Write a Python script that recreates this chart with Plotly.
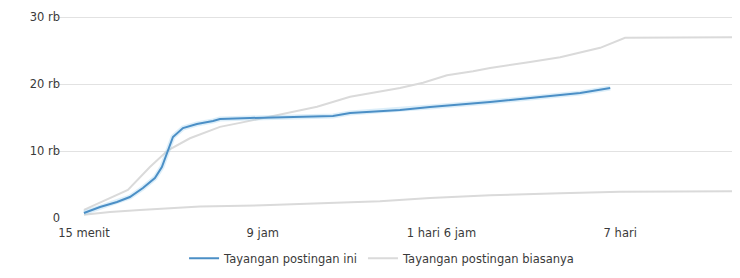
import plotly.graph_objects as go

# x positions are expressed in tick-index units (0 = "15 menit", 1 = "9 jam", ...)
tick_labels = ["15 menit", "9 jam", "1 hari 6 jam", "7 hari"]
tick_positions = [0, 1, 2, 3]
y_tick_vals = [0, 10000, 20000, 30000]
y_tick_text = ["0", "10 rb", "20 rb", "30 rb"]

this_post_x = [0.0, 0.09, 0.185, 0.257, 0.33, 0.397, 0.436, 0.47, 0.498, 0.554, 0.632,
               0.722, 0.761, 0.929, 1.209, 1.393, 1.489, 1.768, 1.936, 2.272, 2.552,
               2.776, 2.944]
this_post_y = [750, 1640, 2390, 3130, 4480, 5970, 7610, 10150, 12090, 13430, 14030,
               14480, 14780, 14930, 15070, 15220, 15670, 16120, 16570, 17310, 18060,
               18660, 19400]

typical_high_x = [0.0, 0.09, 0.246, 0.369, 0.47, 0.593, 0.761, 0.873, 1.041, 1.304, 1.489,
                  1.768, 1.897, 2.031, 2.177, 2.272, 2.496, 2.664, 2.888, 3.027, 3.671]
typical_high_y = [1200, 2300, 4200, 7600, 10100, 11900, 13600, 14200, 15100, 16600, 18100,
                  19400, 20200, 21300, 21900, 22400, 23300, 24000, 25400, 26900, 27000]

typical_low_x = [0.0, 0.146, 0.313, 0.481, 0.649, 1.0, 1.32, 1.656, 1.936, 2.272, 2.664,
                 3.0, 3.671]
typical_low_y = [500, 900, 1200, 1500, 1700, 1900, 2200, 2500, 3000, 3400, 3700, 3900, 4000]

BLUE = "#4b8fc6"
GRAY = "#dadada"
TEXT = "#3a3a3a"
FONT = "DejaVu Sans"

fig = go.Figure()

fig.add_trace(go.Scatter(x=typical_low_x, y=typical_low_y, mode="lines",
                         line=dict(color=GRAY, width=2), showlegend=False,
                         hoverinfo="skip"))
fig.add_trace(go.Scatter(x=typical_high_x, y=typical_high_y, mode="lines",
                         line=dict(color=GRAY, width=2),
                         name="Tayangan postingan biasanya", legendrank=2))
fig.add_trace(go.Scatter(x=this_post_x, y=this_post_y, mode="lines",
                         line=dict(color="rgba(140,200,235,0.3)", width=5),
                         showlegend=False, hoverinfo="skip"))
fig.add_trace(go.Scatter(x=this_post_x, y=this_post_y, mode="lines",
                         line=dict(color=BLUE, width=2),
                         name="Tayangan postingan ini", legendrank=1))

fig.update_layout(
    width=732, height=270,
    margin=dict(l=45, r=0, t=5, b=60, autoexpand=False),
    paper_bgcolor="white", plot_bgcolor="white",
    font=dict(family=FONT, size=11.5, color=TEXT),
    legend=dict(orientation="h", x=0.479, xanchor="center", y=-0.125, yanchor="top",
                font=dict(size=11.5, color=TEXT), itemwidth=30,
                traceorder="normal"),
    xaxis=dict(range=[-0.173, 3.67], tickvals=tick_positions, ticktext=tick_labels,
               showgrid=False, zeroline=False, showline=False, ticks="",
               ticklabelstandoff=6, automargin=False, fixedrange=True),
    yaxis=dict(range=[0, 30600], tickvals=y_tick_vals, ticktext=y_tick_text,
               showgrid=True, gridcolor="#e2e2e2", gridwidth=1, zeroline=False,
               showline=False, ticks="", ticklabelstandoff=-8, automargin=False,
               fixedrange=True),
    showlegend=True,
)

fig.write_html("out.html")
